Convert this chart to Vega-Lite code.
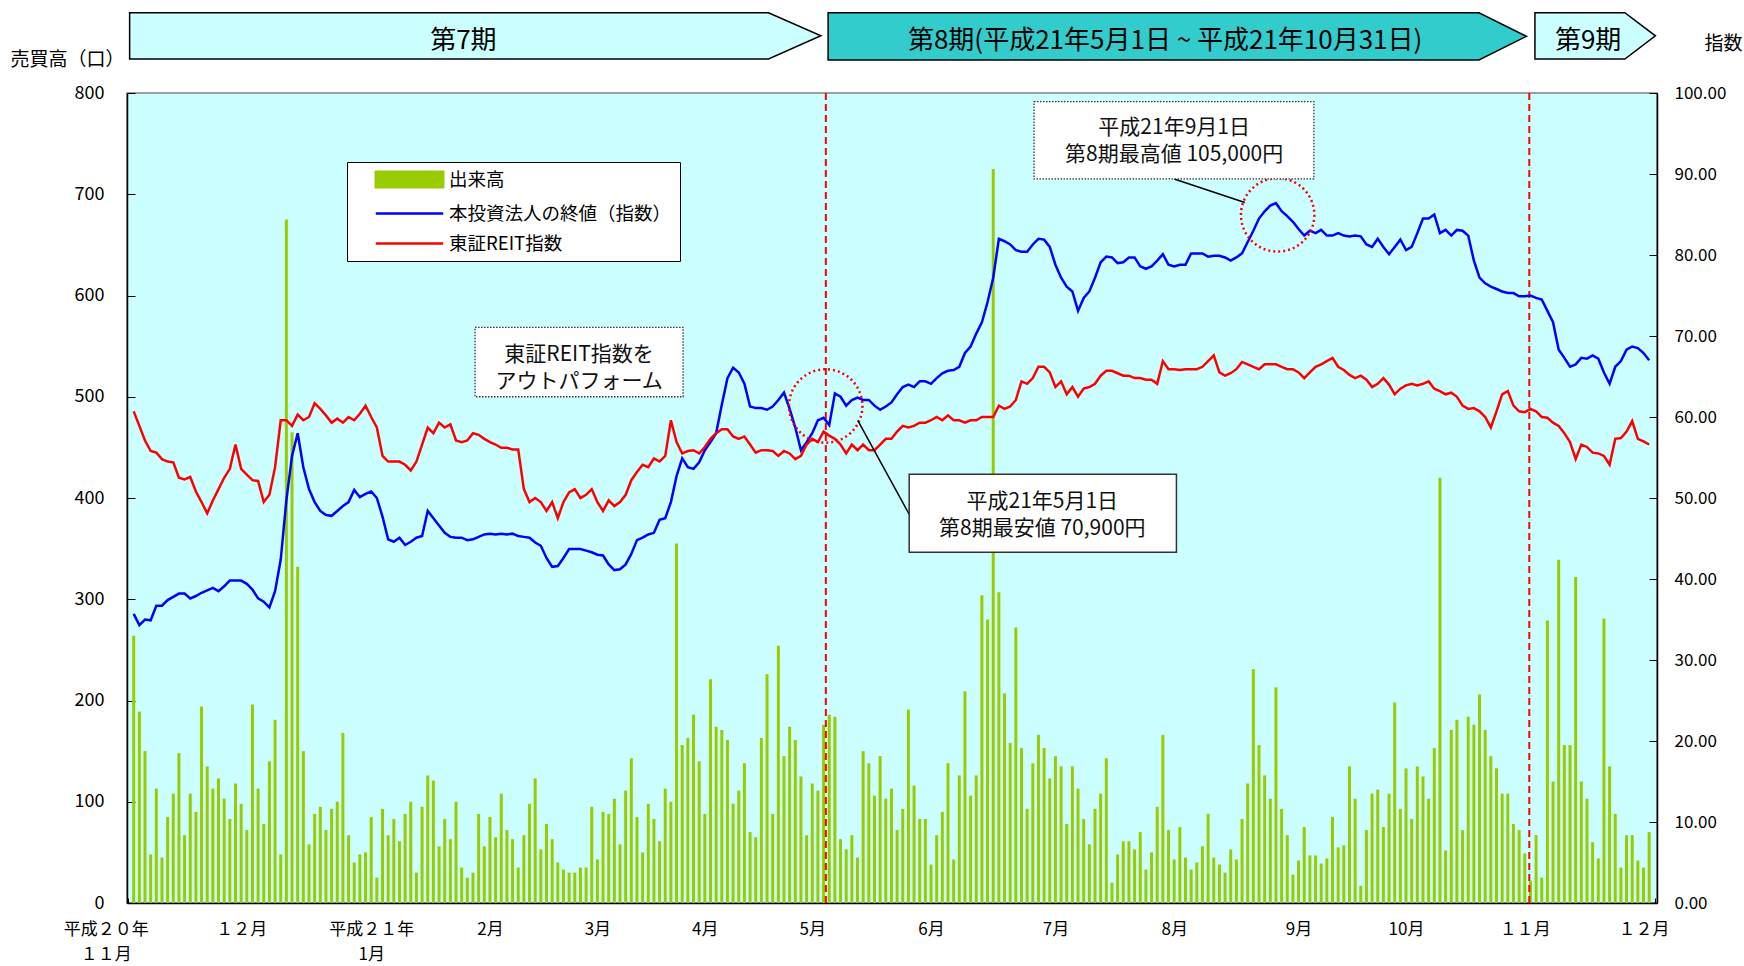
{
"$schema": "https://vega.github.io/schema/vega-lite/v6.json",
"width": 1530, "height": 810,
"autosize": {"type": "none"},
"padding": {"left": 127, "top": 93, "right": 87, "bottom": 63},
"background": "white",
"config": {
  "font": "Noto Sans CJK JP",
  "view": {"fill": "#CCFFFF", "stroke": "#808080", "strokeWidth": 1.5},
  "axis": {"grid": false, "domainColor": "#000", "tickColor": "#000", "labelColor": "#000", "titleColor": "#000", "titleFontWeight": "normal", "domainWidth": 1.5}
},
"datasets": {
"main": [
{"n":1,"volume":264,"close":35.7,"reit":60.7},{"n":2,"volume":189,"close":34.3,"reit":58.9},{"n":3,"volume":150,"close":35.0,"reit":57.1},{"n":4,"volume":48,"close":34.9,"reit":55.8},{"n":5,"volume":113,"close":36.7,"reit":55.6},{"n":6,"volume":45,"close":36.7,"reit":54.8},{"n":7,"volume":85,"close":37.4,"reit":54.5},{"n":8,"volume":108,"close":37.8,"reit":54.4},{"n":9,"volume":148,"close":38.2,"reit":52.5},{"n":10,"volume":67,"close":38.2,"reit":52.3},
{"n":11,"volume":108,"close":37.6,"reit":52.6},{"n":12,"volume":90,"close":37.9,"reit":50.8},{"n":13,"volume":194,"close":38.3,"reit":49.5},{"n":14,"volume":135,"close":38.6,"reit":48.1},{"n":15,"volume":113,"close":38.9,"reit":49.7},{"n":16,"volume":123,"close":38.5,"reit":51.1},{"n":17,"volume":103,"close":39.1,"reit":52.5},{"n":18,"volume":83,"close":39.8,"reit":53.6},{"n":19,"volume":118,"close":39.8,"reit":56.6},{"n":20,"volume":98,"close":39.8,"reit":53.6},
{"n":21,"volume":72,"close":39.4,"reit":52.9},{"n":22,"volume":196,"close":38.7,"reit":52.2},{"n":23,"volume":113,"close":37.6,"reit":52.1},{"n":24,"volume":78,"close":37.2,"reit":49.5},{"n":25,"volume":140,"close":36.5,"reit":50.4},{"n":26,"volume":181,"close":38.5,"reit":53.8},{"n":27,"volume":48,"close":42.4,"reit":59.6},{"n":28,"volume":675,"close":49.7,"reit":59.6},{"n":29,"volume":465,"close":55.2,"reit":58.9},{"n":30,"volume":332,"close":58.0,"reit":60.3},
{"n":31,"volume":150,"close":53.8,"reit":59.6},{"n":32,"volume":58,"close":51.1,"reit":60.0},{"n":33,"volume":88,"close":49.5,"reit":61.7},{"n":34,"volume":95,"close":48.4,"reit":61.0},{"n":35,"volume":72,"close":47.9,"reit":60.2},{"n":36,"volume":93,"close":47.8,"reit":59.3},{"n":37,"volume":100,"close":48.4,"reit":59.8},{"n":38,"volume":168,"close":49.0,"reit":59.3},{"n":39,"volume":67,"close":49.5,"reit":60.0},{"n":40,"volume":40,"close":51.0,"reit":59.6},
{"n":41,"volume":48,"close":50.1,"reit":60.4},{"n":42,"volume":50,"close":50.5,"reit":61.4},{"n":43,"volume":85,"close":50.8,"reit":60.0},{"n":44,"volume":25,"close":50.0,"reit":58.7},{"n":45,"volume":93,"close":47.7,"reit":55.2},{"n":46,"volume":67,"close":44.9,"reit":54.5},{"n":47,"volume":83,"close":44.6,"reit":54.5},{"n":48,"volume":61,"close":45.1,"reit":54.5},{"n":49,"volume":88,"close":44.2,"reit":54.1},{"n":50,"volume":100,"close":44.6,"reit":53.4},
{"n":51,"volume":30,"close":45.1,"reit":54.5},{"n":52,"volume":95,"close":45.3,"reit":56.6},{"n":53,"volume":126,"close":48.4,"reit":58.7},{"n":54,"volume":121,"close":47.5,"reit":58.0},{"n":55,"volume":56,"close":46.6,"reit":59.3},{"n":56,"volume":83,"close":45.7,"reit":58.7},{"n":57,"volume":63,"close":45.2,"reit":59.1},{"n":58,"volume":100,"close":45.1,"reit":57.1},{"n":59,"volume":35,"close":45.1,"reit":56.9},{"n":60,"volume":25,"close":44.8,"reit":57.1},
{"n":61,"volume":30,"close":44.9,"reit":58.0},{"n":62,"volume":88,"close":45.2,"reit":57.8},{"n":63,"volume":56,"close":45.5,"reit":57.3},{"n":64,"volume":85,"close":45.6,"reit":56.9},{"n":65,"volume":65,"close":45.5,"reit":56.6},{"n":66,"volume":108,"close":45.6,"reit":56.2},{"n":67,"volume":72,"close":45.5,"reit":56.2},{"n":68,"volume":63,"close":45.6,"reit":56.0},{"n":69,"volume":35,"close":45.3,"reit":56.0},{"n":70,"volume":67,"close":45.2,"reit":51.1},
{"n":71,"volume":98,"close":45.1,"reit":49.5},{"n":72,"volume":123,"close":44.5,"reit":50.0},{"n":73,"volume":53,"close":44.1,"reit":49.5},{"n":74,"volume":78,"close":42.6,"reit":48.4},{"n":75,"volume":63,"close":41.5,"reit":49.5},{"n":76,"volume":40,"close":41.6,"reit":47.5},{"n":77,"volume":33,"close":42.6,"reit":49.5},{"n":78,"volume":30,"close":43.7,"reit":50.7},{"n":79,"volume":30,"close":43.7,"reit":51.1},{"n":80,"volume":35,"close":43.7,"reit":50.0},
{"n":81,"volume":35,"close":43.5,"reit":50.4},{"n":82,"volume":95,"close":43.3,"reit":51.1},{"n":83,"volume":43,"close":43.0,"reit":49.5},{"n":84,"volume":90,"close":42.9,"reit":48.4},{"n":85,"volume":88,"close":41.8,"reit":49.7},{"n":86,"volume":103,"close":41.1,"reit":49.0},{"n":87,"volume":58,"close":41.2,"reit":49.5},{"n":88,"volume":111,"close":41.8,"reit":50.4},{"n":89,"volume":143,"close":43.1,"reit":52.2},{"n":90,"volume":85,"close":44.8,"reit":53.2},
{"n":91,"volume":50,"close":45.1,"reit":54.1},{"n":92,"volume":98,"close":45.5,"reit":53.8},{"n":93,"volume":83,"close":45.7,"reit":54.9},{"n":94,"volume":61,"close":47.3,"reit":54.5},{"n":95,"volume":113,"close":47.5,"reit":55.2},{"n":96,"volume":100,"close":49.5,"reit":59.6},{"n":97,"volume":355,"close":52.7,"reit":56.9},{"n":98,"volume":156,"close":54.9,"reit":55.5},{"n":99,"volume":163,"close":53.8,"reit":55.8},{"n":100,"volume":186,"close":53.6,"reit":55.9},
{"n":101,"volume":140,"close":54.4,"reit":55.5},{"n":102,"volume":88,"close":55.9,"reit":56.3},{"n":103,"volume":221,"close":56.9,"reit":57.3},{"n":104,"volume":174,"close":58.0,"reit":58.0},{"n":105,"volume":171,"close":61.5,"reit":58.5},{"n":106,"volume":161,"close":64.8,"reit":58.5},{"n":107,"volume":98,"close":66.1,"reit":57.6},{"n":108,"volume":111,"close":65.5,"reit":57.3},{"n":109,"volume":138,"close":64.1,"reit":57.6},{"n":110,"volume":70,"close":61.3,"reit":56.6},
{"n":111,"volume":65,"close":61.1,"reit":55.6},{"n":112,"volume":163,"close":61.1,"reit":55.9},{"n":113,"volume":226,"close":60.9,"reit":55.9},{"n":114,"volume":88,"close":61.3,"reit":55.8},{"n":115,"volume":254,"close":62.1,"reit":55.2},{"n":116,"volume":145,"close":63.0,"reit":55.8},{"n":117,"volume":174,"close":61.0,"reit":55.5},{"n":118,"volume":161,"close":58.7,"reit":54.8},{"n":119,"volume":125,"close":55.9,"reit":55.2},{"n":120,"volume":67,"close":56.9,"reit":56.6},
{"n":121,"volume":118,"close":58.0,"reit":57.3},{"n":122,"volume":111,"close":59.6,"reit":56.9},{"n":123,"volume":176,"close":59.9,"reit":58.2},{"n":124,"volume":186,"close":59.0,"reit":57.7},{"n":125,"volume":184,"close":62.9,"reit":57.3},{"n":126,"volume":63,"close":62.5,"reit":56.6},{"n":127,"volume":53,"close":61.4,"reit":55.5},{"n":128,"volume":67,"close":62.1,"reit":56.6},{"n":129,"volume":45,"close":62.4,"reit":55.9},{"n":130,"volume":150,"close":62.1,"reit":56.6},
{"n":131,"volume":138,"close":62.1,"reit":55.9},{"n":132,"volume":106,"close":61.4,"reit":55.9},{"n":133,"volume":145,"close":60.9,"reit":56.6},{"n":134,"volume":103,"close":61.3,"reit":57.3},{"n":135,"volume":113,"close":61.8,"reit":57.3},{"n":136,"volume":72,"close":62.8,"reit":58.2},{"n":137,"volume":93,"close":63.7,"reit":58.9},{"n":138,"volume":191,"close":64.0,"reit":58.7},{"n":139,"volume":116,"close":63.7,"reit":58.9},{"n":140,"volume":83,"close":64.4,"reit":59.3},
{"n":141,"volume":83,"close":64.4,"reit":59.3},{"n":142,"volume":38,"close":64.1,"reit":59.6},{"n":143,"volume":67,"close":64.8,"reit":60.0},{"n":144,"volume":90,"close":65.4,"reit":59.6},{"n":145,"volume":138,"close":65.7,"reit":60.2},{"n":146,"volume":43,"close":65.8,"reit":59.6},{"n":147,"volume":126,"close":66.2,"reit":59.6},{"n":148,"volume":209,"close":67.9,"reit":59.3},{"n":149,"volume":106,"close":68.7,"reit":59.6},{"n":150,"volume":126,"close":70.3,"reit":59.6},
{"n":151,"volume":304,"close":71.7,"reit":60.0},{"n":152,"volume":280,"close":74.2,"reit":60.0},{"n":153,"volume":725,"close":77.2,"reit":60.0},{"n":154,"volume":307,"close":82.0,"reit":61.4},{"n":155,"volume":207,"close":81.7,"reit":61.0},{"n":156,"volume":158,"close":81.3,"reit":61.3},{"n":157,"volume":272,"close":80.6,"reit":62.1},{"n":158,"volume":153,"close":80.4,"reit":64.4},{"n":159,"volume":93,"close":80.4,"reit":64.1},{"n":160,"volume":138,"close":81.3,"reit":64.8},
{"n":161,"volume":166,"close":82.0,"reit":66.2},{"n":162,"volume":153,"close":81.9,"reit":66.2},{"n":163,"volume":123,"close":81.0,"reit":65.5},{"n":164,"volume":145,"close":78.8,"reit":63.7},{"n":165,"volume":135,"close":77.2,"reit":64.4},{"n":166,"volume":78,"close":76.1,"reit":62.8},{"n":167,"volume":135,"close":75.5,"reit":63.7},{"n":168,"volume":113,"close":73.1,"reit":62.5},{"n":169,"volume":83,"close":74.7,"reit":63.5},{"n":170,"volume":58,"close":75.5,"reit":63.7},
{"n":171,"volume":93,"close":77.2,"reit":64.1},{"n":172,"volume":108,"close":79.1,"reit":65.1},{"n":173,"volume":143,"close":79.8,"reit":65.7},{"n":174,"volume":20,"close":79.7,"reit":65.7},{"n":175,"volume":48,"close":79.0,"reit":65.4},{"n":176,"volume":61,"close":79.1,"reit":65.1},{"n":177,"volume":61,"close":79.7,"reit":65.1},{"n":178,"volume":53,"close":79.7,"reit":64.8},{"n":179,"volume":70,"close":78.6,"reit":64.8},{"n":180,"volume":33,"close":78.3,"reit":64.6},
{"n":181,"volume":50,"close":78.6,"reit":64.6},{"n":182,"volume":95,"close":79.3,"reit":64.1},{"n":183,"volume":166,"close":80.1,"reit":66.9},{"n":184,"volume":72,"close":78.8,"reit":65.9},{"n":185,"volume":43,"close":78.6,"reit":65.9},{"n":186,"volume":75,"close":78.8,"reit":65.8},{"n":187,"volume":45,"close":78.8,"reit":65.9},{"n":188,"volume":33,"close":80.2,"reit":65.9},{"n":189,"volume":40,"close":80.2,"reit":65.9},{"n":190,"volume":56,"close":80.2,"reit":66.2},
{"n":191,"volume":88,"close":79.8,"reit":66.9},{"n":192,"volume":45,"close":79.9,"reit":67.6},{"n":193,"volume":38,"close":79.9,"reit":65.5},{"n":194,"volume":30,"close":79.7,"reit":65.1},{"n":195,"volume":53,"close":79.3,"reit":65.4},{"n":196,"volume":43,"close":79.7,"reit":65.9},{"n":197,"volume":83,"close":80.2,"reit":66.8},{"n":198,"volume":118,"close":81.6,"reit":66.5},{"n":199,"volume":231,"close":83.0,"reit":66.2},{"n":200,"volume":156,"close":84.5,"reit":65.9},
{"n":201,"volume":126,"close":85.4,"reit":66.5},{"n":202,"volume":103,"close":86.1,"reit":66.5},{"n":203,"volume":213,"close":86.4,"reit":66.5},{"n":204,"volume":93,"close":85.4,"reit":66.2},{"n":205,"volume":67,"close":84.8,"reit":65.9},{"n":206,"volume":28,"close":84.1,"reit":65.9},{"n":207,"volume":42,"close":83.2,"reit":65.5},{"n":208,"volume":75,"close":82.4,"reit":64.8},{"n":209,"volume":47,"close":83.0,"reit":65.5},{"n":210,"volume":47,"close":82.7,"reit":66.2},
{"n":211,"volume":39,"close":83.1,"reit":66.5},{"n":212,"volume":44,"close":82.4,"reit":66.9},{"n":213,"volume":85,"close":82.4,"reit":67.3},{"n":214,"volume":55,"close":82.7,"reit":66.2},{"n":215,"volume":57,"close":82.4,"reit":65.8},{"n":216,"volume":135,"close":82.3,"reit":65.2},{"n":217,"volume":103,"close":82.4,"reit":64.8},{"n":218,"volume":17,"close":82.3,"reit":65.1},{"n":219,"volume":72,"close":81.3,"reit":64.6},{"n":220,"volume":108,"close":81.0,"reit":63.7},
{"n":221,"volume":112,"close":82.0,"reit":64.1},{"n":222,"volume":75,"close":81.0,"reit":64.8},{"n":223,"volume":108,"close":80.1,"reit":64.0},{"n":224,"volume":198,"close":81.0,"reit":62.8},{"n":225,"volume":93,"close":81.9,"reit":63.5},{"n":226,"volume":133,"close":80.6,"reit":63.9},{"n":227,"volume":83,"close":81.0,"reit":64.1},{"n":228,"volume":135,"close":82.7,"reit":63.9},{"n":229,"volume":125,"close":84.5,"reit":64.1},{"n":230,"volume":103,"close":84.5,"reit":64.4},
{"n":231,"volume":153,"close":85.0,"reit":63.5},{"n":232,"volume":420,"close":82.7,"reit":63.2},{"n":233,"volume":52,"close":83.1,"reit":62.8},{"n":234,"volume":171,"close":82.4,"reit":63.0},{"n":235,"volume":181,"close":83.1,"reit":62.5},{"n":236,"volume":72,"close":83.0,"reit":61.4},{"n":237,"volume":184,"close":82.4,"reit":61.0},{"n":238,"volume":176,"close":79.3,"reit":61.1},{"n":239,"volume":206,"close":77.2,"reit":60.7},{"n":240,"volume":171,"close":76.5,"reit":60.0},
{"n":241,"volume":145,"close":76.1,"reit":58.7},{"n":242,"volume":133,"close":75.8,"reit":60.7},{"n":243,"volume":108,"close":75.5,"reit":62.8},{"n":244,"volume":108,"close":75.3,"reit":63.2},{"n":245,"volume":78,"close":75.3,"reit":61.4},{"n":246,"volume":72,"close":74.9,"reit":60.7},{"n":247,"volume":49,"close":74.9,"reit":60.6},{"n":248,"volume":22,"close":75.0,"reit":61.0},{"n":249,"volume":67,"close":74.7,"reit":60.7},{"n":250,"volume":25,"close":74.5,"reit":60.0},
{"n":251,"volume":279,"close":73.1,"reit":59.9},{"n":252,"volume":120,"close":71.7,"reit":59.3},{"n":253,"volume":339,"close":68.3,"reit":58.9},{"n":254,"volume":156,"close":67.3,"reit":58.0},{"n":255,"volume":156,"close":66.2,"reit":56.9},{"n":256,"volume":322,"close":66.5,"reit":54.8},{"n":257,"volume":120,"close":67.3,"reit":56.6},{"n":258,"volume":103,"close":67.2,"reit":56.3},{"n":259,"volume":60,"close":67.6,"reit":55.6},{"n":260,"volume":44,"close":67.2,"reit":55.5},
{"n":261,"volume":281,"close":65.5,"reit":55.2},{"n":262,"volume":135,"close":64.1,"reit":54.1},{"n":263,"volume":88,"close":66.2,"reit":57.3},{"n":264,"volume":35,"close":66.9,"reit":57.4},{"n":265,"volume":67,"close":68.3,"reit":58.2},{"n":266,"volume":67,"close":68.7,"reit":59.5},{"n":267,"volume":42,"close":68.5,"reit":57.3},{"n":268,"volume":35,"close":67.9,"reit":57.0},{"n":269,"volume":70,"close":67.0,"reit":56.6}
],
"boundaries": [{"boundary":"第8期開始","n":123.4},{"boundary":"第9期開始","n":247.8}],
"arrows": [
{"period":"第7期","x":0.28,"top":879.3,"bottom":833.6},{"period":"第7期","x":113.26,"top":879.3,"bottom":833.6},{"period":"第7期","x":122.52,"top":856.5,"bottom":856.5},
{"period":"第8期","x":123.8,"top":879.3,"bottom":832.6},{"period":"第8期","x":238.9,"top":879.3,"bottom":832.6},{"period":"第8期","x":247.3,"top":856,"bottom":856},
{"period":"第9期","x":248.8,"top":879.3,"bottom":833.6},{"period":"第9期","x":264.7,"top":879.3,"bottom":833.6},{"period":"第9期","x":270.1,"top":856.5,"bottom":856.5}
],
"arrowLabels": [
{"label":"第7期","x":59.3,"y":851.5},
{"label":"第8期(平成21年5月1日 ~ 平成21年10月31日)","x":183.4,"y":851.5},
{"label":"第9期","x":258.2,"y":851.5}
],
"boxes": [
{"note":"outperform","x1":61.37,"x2":98.15,"y1":500.0,"y2":568.6,"border":"dotted"},
{"note":"high","x1":160.22,"x2":209.71,"y1":715.1,"y2":791.4,"border":"dotted"},
{"note":"low","x1":138.14,"x2":185.4,"y1":346.4,"y2":423.4,"border":"solid"}
],
"notes": [
{"text":"東証REIT指数を\nアウトパフォーム","x":79.76,"y":541.5},
{"text":"平成21年9月1日\n第8期最高値 105,000円","x":185.0,"y":765.5},
{"text":"平成21年5月1日\n第8期最安値 70,900円","x":161.68,"y":396.5}
],
"leaders": [
{"x":185.0,"y":715.1,"x2":197.5,"y2":691.9},
{"x":129.04,"y":476.6,"x2":138.21,"y2":383.2}
],
"circles": [{"x":123.38,"y":490.9},{"x":203.3,"y":679.6}]
},
"layer": [
{
 "data": {"name": "main"},
 "mark": {"type": "bar", "size": 3, "orient": "vertical"},
 "encoding": {
  "x": {"field": "n", "type": "quantitative", "title": null,
        "scale": {"domain": [0.7, 269.5], "nice": false, "zero": false},
        "axis": {"title": null, "tickCount": 269, "tickSize": -5, "tickWidth": 1, "labelOverlap": false, "labelFlush": false, "labelBound": false,
                 "labelFontSize": 17, "labelPadding": 23, "labelBaseline": "top", "labelLineHeight": 25,
                 "labelOffset": {"condition": {"test": "datum.value == 1", "value": -28}, "value": 0},
                 "labelExpr": "datum.value == 1 ? ['平成２０年', '１１月'] : datum.value == 20 ? '１２月' : datum.value == 43 ? ['平成２１年', '1月'] : datum.value == 64 ? '2月' : datum.value == 83 ? '3月' : datum.value == 102 ? '4月' : datum.value == 121 ? '5月' : datum.value == 142 ? '6月' : datum.value == 164 ? '7月' : datum.value == 185 ? '8月' : datum.value == 207 ? '9月' : datum.value == 226 ? '10月' : datum.value == 247 ? '１１月' : datum.value == 268 ? '１２月' : ''"}},
  "y": {"field": "volume", "type": "quantitative", "stack": null,
        "scale": {"domain": [0, 800], "nice": false},
        "axis": {"orient": "left", "title": "売買高（口）", "titleAngle": 0, "titleX": -60, "titleY": -34, "titleAlign": "center", "titleBaseline": "middle", "titleFontSize": 19,
                 "values": [0,100,200,300,400,500,600,700,800], "labelFontSize": 18, "tickSize": -8, "labelPadding": 31}},
  "color": {"datum": "volume", "title": null,
            "scale": {"domain": ["volume","close","reit"], "range": ["#99CC00","#0000FF","#FF0000"]},
            "legend": {"orient": "none", "legendX": 220, "legendY": 69, "title": null, "direction": "vertical",
                       "padding": 8, "strokeColor": "#000", "fillColor": "#fff",
                       "symbolSize": 246, "symbolOffset": 45, "labelOffset": 30, "labelFontSize": 18.5, "labelColor": "#000", "labelLimit": 400, "rowPadding": 11,
                       "labelExpr": "datum.label === 'volume' ? '出来高' : datum.label === 'close' ? '本投資法人の終値（指数）' : '東証REIT指数'",
                       "encode": {"symbols": {"update": {
                          "shape": {"signal": "datum.value === 'volume' ? 'M-4.3,-1L4.3,-1L4.3,1L-4.3,1Z' : 'M-4.3,0L4.3,0'"},
                          "fill": {"signal": "datum.value === 'volume' ? '#99CC00' : 'transparent'"},
                          "stroke": {"signal": "datum.value === 'close' ? '#0000FF' : datum.value === 'reit' ? '#FF0000' : 'transparent'"},
                          "strokeWidth": {"value": 2.5},
                          "opacity": {"value": 1},
                          "size": {"value": 246}}}}}}
 }
},
{
 "data": {"name": "boundaries"},
 "mark": {"type": "rule", "color": "#FF0000", "strokeWidth": 2, "strokeDash": [7, 4]},
 "encoding": {"x": {"field": "n", "type": "quantitative", "title": null}}
},
{
 "data": {"name": "main"},
 "transform": [{"fold": ["close", "reit"], "as": ["series", "index"]}],
 "mark": {"type": "line", "strokeWidth": 2.5},
 "encoding": {
  "x": {"field": "n", "type": "quantitative", "title": null},
  "y": {"field": "index", "type": "quantitative",
        "scale": {"domain": [0, 100], "nice": false},
        "axis": {"orient": "right", "title": "指数", "titleAngle": 0, "titleX": 66, "titleY": -50, "titleAlign": "center", "titleBaseline": "middle", "titleFontSize": 19,
                 "values": [0,10,20,30,40,50,60,70,80,90,100], "format": ".2f", "labelFontSize": 17, "tickSize": -8, "labelPadding": 25}},
  "color": {"field": "series", "type": "nominal", "title": null, "legend": {"title": null}}
 }
},
{
 "data": {"name": "circles"},
 "mark": {"type": "point", "shape": "circle", "size": 5388, "filled": false, "stroke": "#FF0000", "strokeWidth": 2.5, "strokeDash": [2, 3], "opacity": 1},
 "encoding": {
  "x": {"field": "x", "type": "quantitative", "title": null},
  "y": {"field": "y", "type": "quantitative", "scale": {"domain": [0, 800], "nice": false}, "axis": null}
 }
},
{
 "data": {"name": "leaders"},
 "mark": {"type": "rule", "color": "#000", "strokeWidth": 1.5},
 "encoding": {
  "x": {"field": "x", "type": "quantitative", "title": null},
  "x2": {"field": "x2"},
  "y": {"field": "y", "type": "quantitative", "scale": {"domain": [0, 800], "nice": false}, "axis": null},
  "y2": {"field": "y2"}
 }
},
{
 "data": {"name": "boxes"},
 "transform": [{"filter": "datum.border === 'dotted'"}],
 "mark": {"type": "rect", "fill": "#fff", "stroke": "#333", "strokeWidth": 1.3, "strokeDash": [1.5, 1.5]},
 "encoding": {
  "x": {"field": "x1", "type": "quantitative", "title": null},
  "x2": {"field": "x2"},
  "y": {"field": "y1", "type": "quantitative", "scale": {"domain": [0, 800], "nice": false}, "axis": null},
  "y2": {"field": "y2"}
 }
},
{
 "data": {"name": "boxes"},
 "transform": [{"filter": "datum.border === 'solid'"}],
 "mark": {"type": "rect", "fill": "#fff", "stroke": "#333", "strokeWidth": 1.5},
 "encoding": {
  "x": {"field": "x1", "type": "quantitative", "title": null},
  "x2": {"field": "x2"},
  "y": {"field": "y1", "type": "quantitative", "scale": {"domain": [0, 800], "nice": false}, "axis": null},
  "y2": {"field": "y2"}
 }
},
{
 "data": {"name": "notes"},
 "mark": {"type": "text", "align": "center", "baseline": "middle", "fontSize": 21, "lineBreak": "\n", "lineHeight": 27, "color": "#111"},
 "encoding": {
  "x": {"field": "x", "type": "quantitative", "title": null},
  "y": {"field": "y", "type": "quantitative", "scale": {"domain": [0, 800], "nice": false}, "axis": null},
  "text": {"field": "text"}
 }
},
{
 "data": {"name": "arrows"},
 "mark": {"type": "area", "stroke": "#000", "strokeWidth": 1.5, "clip": false, "opacity": 1},
 "encoding": {
  "x": {"field": "x", "type": "quantitative", "title": null},
  "y": {"field": "top", "type": "quantitative", "scale": {"domain": [0, 800], "nice": false}, "axis": null},
  "y2": {"field": "bottom"},
  "detail": {"field": "period"},
  "fill": {"field": "period", "type": "nominal", "scale": {"domain": ["第7期","第8期","第9期"], "range": ["#CCFFFF","#33CCCC","#CCFFFF"]}, "legend": null}
 }
},
{
 "data": {"name": "arrowLabels"},
 "mark": {"type": "text", "align": "center", "baseline": "middle", "fontSize": 26, "color": "#000"},
 "encoding": {
  "x": {"field": "x", "type": "quantitative", "title": null},
  "y": {"field": "y", "type": "quantitative", "scale": {"domain": [0, 800], "nice": false}, "axis": null},
  "text": {"field": "label"}
 }
}
],
"resolve": {"scale": {"y": "independent"}}
}
